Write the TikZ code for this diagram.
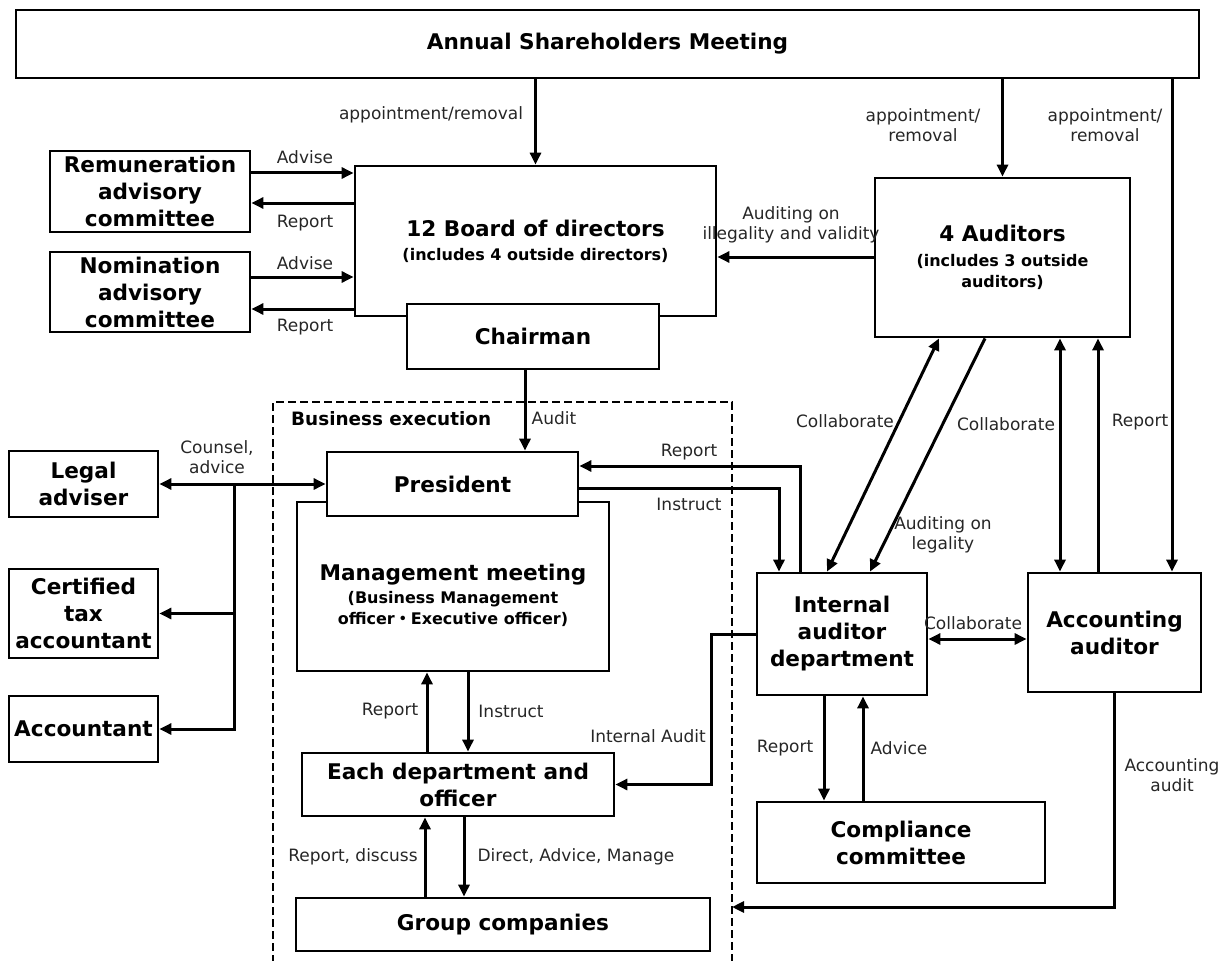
\documentclass[tikz,border=0pt]{standalone}
\usepackage{fontspec}
\setmainfont{DejaVu Sans}
\newfontfamily\cjk{Noto Sans CJK JP}
\usetikzlibrary{arrows.meta}
\newcommand{\subf}{\fontsize{16}{21}\selectfont}
\tikzset{box/.style = {draw, fill=white, line width=2.8pt, inner sep=0pt, align=center, font=\bfseries\fontsize{21.6}{27}\selectfont}}
\tikzset{lbl/.style = {inner sep=0pt, align=center, text=black!85, font=\fontsize{17}{20}\selectfont}}
\tikzset{arr/.style = {-{Triangle[length=12pt,width=11pt]}, line width=3pt}}
\tikzset{dblarr/.style = {arr, {Triangle[length=12pt,width=11pt]}-{Triangle[length=12pt,width=11pt]}}}
\tikzset{execline/.style = {line width=2.8pt, dash pattern=on 8pt off 4pt}}

\begin{document}
\begin{tikzpicture}[x=1pt,y=-1pt]
\useasboundingbox (0,0) rectangle (1230,960);

% business execution area
\draw[execline] (273,975) |- (732,402) -- (732,975);
\node[anchor=west, inner sep=0pt, font=\bfseries\fontsize{18.4}{22}\selectfont] (bizlbl) at (291,419) {Business execution};
\coordinate (execR) at (732,907);

% boxes
\node[box, minimum width=1183pt, minimum height=68pt] (asm) at (607.5,44) {Annual Shareholders Meeting};
\node[box, minimum width=200pt, minimum height=81pt] (rem) at (150,191.5) {Remuneration\\advisory\\committee};
\node[box, minimum width=200pt, minimum height=80pt] (nom) at (150,292) {Nomination\\advisory\\committee};
\node[box, minimum width=361pt, minimum height=150pt] (board) at (535.5,241) {12 Board of directors\\[-3pt]\subf (includes 4 outside directors)};
\node[box, minimum width=252pt, minimum height=65pt] (chair) at (533,336.5) {Chairman};
\node[box, minimum width=255pt, minimum height=159pt] (aud) at (1002.5,257.5) {4 Auditors\\[-2pt]\subf (includes 3 outside\\[-6pt]\subf auditors)};
\node[box, minimum width=149pt, minimum height=66pt] (legal) at (83.5,484) {Legal\\adviser};
\node[box, minimum width=149pt, minimum height=89pt] (tax) at (83.5,613.5) {Certified\\tax\\accountant};
\node[box, minimum width=149pt, minimum height=66pt] (acct) at (83.5,729) {Accountant};
\node[box, minimum width=312pt, minimum height=169pt] (mgmt) at (453,586.5) {\rule{0pt}{34pt}Management meeting\\[-4pt]\subf (Business Management\\[-6pt]\subf officer{\cjk ・}Executive officer)};
\node[box, minimum width=251pt, minimum height=64pt] (pres) at (452.5,484) {President};
\node[box, minimum width=312pt, minimum height=63pt] (dept) at (458,784.5) {Each department and\\officer};
\node[box, minimum width=414pt, minimum height=53pt] (group) at (503,924.5) {Group companies};
\node[box, minimum width=170pt, minimum height=122pt] (int) at (842,634) {Internal\\auditor\\department};
\node[box, minimum width=173pt, minimum height=119pt] (accaud) at (1114.5,632.5) {Accounting\\auditor};
\node[box, minimum width=288pt, minimum height=81pt] (compl) at (901,842.5) {Compliance\\committee};

% connectors
\draw[arr] (asm.south -| board.north) -- (board.north);
\draw[arr] (asm.south -| aud.north) -- (aud.north);
\draw[arr] (asm.south -| 1172,0) -- (accaud.north -| 1172,0);
\draw[arr] (rem.east |- 0,173) -- (board.west |- 0,173);
\draw[arr] (board.west |- 0,203) -- (rem.east |- 0,203);
\draw[arr] (nom.east |- 0,277) -- (board.west |- 0,277);
\draw[arr] (board.west |- 0,309) -- (nom.east |- 0,309);
\draw[arr] (aud.west |- 0,257) -- (board.east |- 0,257);
\draw[arr] (chair.south -| 525,0) -- (pres.north -| 525,0);
\draw[dblarr] (legal.east) -- (pres.west);
\coordinate (hub) at (234,484);
\draw[arr] (hub) |- (acct.east);
\draw[arr] (tax.east -| hub) -- (tax.east);
\draw[arr] (int.north -| 800,0) |- (pres.east |- 0,466);
\draw[arr] (pres.east |- 0,488) -| (int.north -| 779,0);
\draw[dblarr] (aud.south -| 939,0) -- (int.north -| 827,0);
\draw[arr] (aud.south -| 985,0) -- (int.north -| 870,0);
\draw[dblarr] (aud.south -| 1060,0) -- (accaud.north -| 1060,0);
\draw[arr] (accaud.north -| 1098,0) -- (aud.south -| 1098,0);
\draw[dblarr] (int.east |- 0,639) -- (accaud.west |- 0,639);
\draw[arr] (int.west) -- (711,634) |- (dept.east);
\draw[arr] (int.south -| 824,0) -- (compl.north -| 824,0);
\draw[arr] (compl.north -| 863,0) -- (int.south -| 863,0);
\draw[arr] (accaud.south) |- (execR);
\draw[arr] (dept.north -| 427,0) -- (mgmt.south -| 427,0);
\draw[arr] (mgmt.south -| 468,0) -- (dept.north -| 468,0);
\draw[arr] (group.north -| 425,0) -- (dept.south -| 425,0);
\draw[arr] (dept.south -| 464,0) -- (group.north -| 464,0);

% labels
\node[lbl] (lApp1) at (431,115) {appointment/removal};
\node[lbl] (lApp2) at (923,125) {appointment/\\removal};
\node[lbl] (lApp3) at (1105,125) {appointment/\\removal};
\node[lbl] (lAdv1) at (305,157) {Advise};
\node[lbl] (lRep1) at (305,223) {Report};
\node[lbl] (lAdv2) at (305,263) {Advise};
\node[lbl] (lRep2) at (305,327) {Report};
\node[lbl] (lIll) at (791,225) {Auditing on\\illegality and validity};
\node[lbl] (lAudit) at (554,418) {Audit};
\node[lbl] (lCounsel) at (217,457) {Counsel,\\advice};
\node[lbl] (lRep3) at (689,452) {Report};
\node[lbl] (lIns1) at (689,504) {Instruct};
\node[lbl] (lCol1) at (845,421) {Collaborate};
\node[lbl] (lCol2) at (1006,424) {Collaborate};
\node[lbl] (lRep4) at (1140,422) {Report};
\node[lbl] (lLeg) at (943,535) {Auditing on\\legality};
\node[lbl] (lCol3) at (973,623) {Collaborate};
\node[lbl] (lRep5) at (390,711) {Report};
\node[lbl] (lIns2) at (511,711) {Instruct};
\node[lbl] (lRepD) at (353,857) {Report, discuss};
\node[lbl] (lDir) at (576,857) {Direct, Advice, Manage};
\node[lbl] (lIntA) at (648,736) {Internal Audit};
\node[lbl] (lRep6) at (785,748) {Report};
\node[lbl] (lAdvc) at (899,748) {Advice};
\node[lbl] (lAccA) at (1172,775) {Accounting\\audit};
\end{tikzpicture}
\end{document}
